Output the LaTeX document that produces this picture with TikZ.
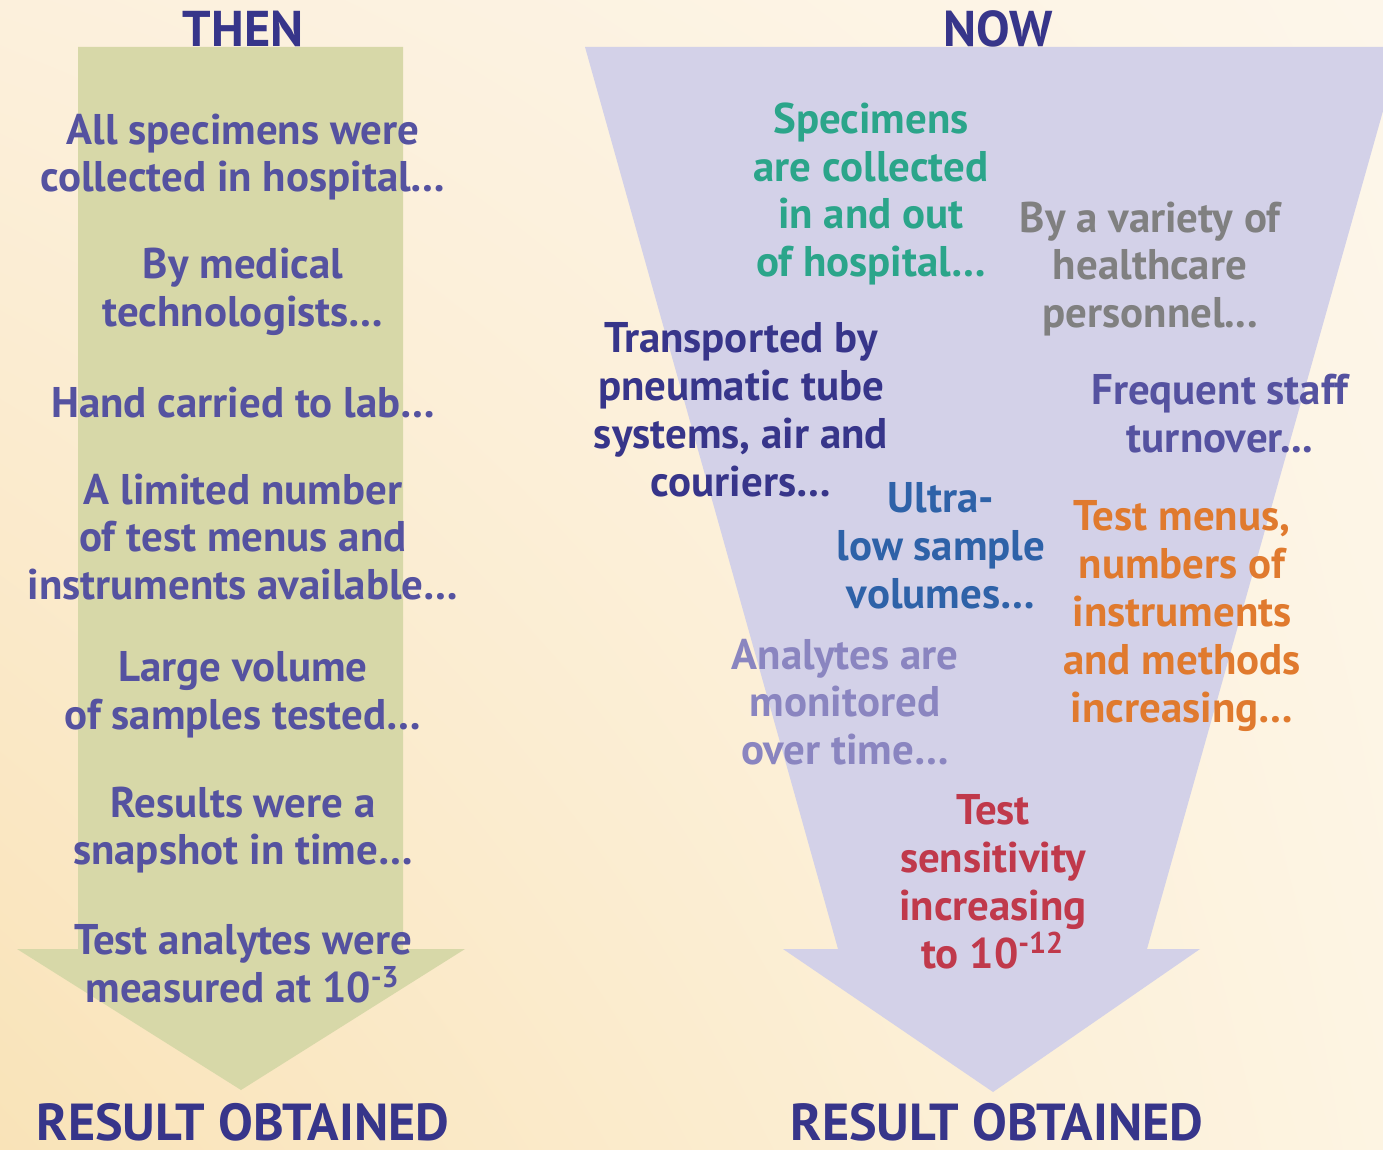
\documentclass[tikz,border=0pt]{standalone}
\usepackage{fontspec}
\setsansfont{PT Sans}
\usetikzlibrary{shadings}

\definecolor{navyhead}{HTML}{37358A}
\definecolor{thenblue}{HTML}{5552A0}
\definecolor{shaftgreen}{HTML}{D7D8A8}
\definecolor{funnelblue}{HTML}{D3D1E8}
\definecolor{tealtext}{HTML}{2BA58A}
\definecolor{graytext}{HTML}{808080}
\definecolor{bluetext}{HTML}{2E62A8}
\definecolor{orangetext}{HTML}{E07A2E}
\definecolor{lilactext}{HTML}{8A85C0}
\definecolor{redtext}{HTML}{C0394B}
\definecolor{bgTL}{HTML}{FCF0DC}
\definecolor{bgTR}{HTML}{FDF6EA}
\definecolor{bgBL}{HTML}{F9E3B8}
\definecolor{bgBR}{HTML}{FDF4E2}

\begin{document}
\begin{tikzpicture}[x=0.01cm,y=-0.01cm,
	every node/.style={inner sep=0pt, align=center,
		font=\sffamily\bfseries\fontsize{12.2}{13.6}\selectfont},
	thenitem/.style={text=thenblue},
	heading/.style={text=navyhead, font=\sffamily\bfseries\fontsize{14.3}{16}\selectfont},
	resulthead/.style={text=navyhead, font=\sffamily\bfseries\fontsize{14.8}{17}\selectfont}]
	\clip (0,0) rectangle (1383,1149);
	\shade[upper left=bgTL, upper right=bgTR, lower left=bgBL, lower right=bgBR] (0,0) rectangle (1383,1149);
	% then arrow
	\fill[shaftgreen] (78,47) -- (403,47) -- (403,949) -- (465,949) -- (241,1090) -- (17,949) -- (78,949) -- cycle;
	% now funnel
	\fill[funnelblue] (585,47) -- (1401,47) -- (1147,949) -- (1200,949) -- (993,1092) -- (783,949) -- (838,949) -- cycle;

	\node[heading, anchor=base] (then) at (243,47) {THEN};
	\node[heading, anchor=base] (now) at (998,47) {NOW};
	\node[resulthead, anchor=base] (resultl) at (243,1140) {RESULT OBTAINED};
	\node[resulthead, anchor=base] (resultr) at (997,1140) {RESULT OBTAINED};

	\node[thenitem] (collected) at (243,157) {All specimens were\\collected in hospital\ldots};
	\node[thenitem] (medtech) at (243,292) {By medical\\technologists\ldots};
	\node[thenitem] (carried) at (243,403) {Hand carried to lab\ldots};
	\node[thenitem] (menus) at (243,537) {A limited number\\of test menus and\\instruments available\ldots};
	\node[thenitem] (volume) at (243,695) {Large volume\\of samples tested\ldots};
	\node[thenitem] (snapshot) at (243,830) {Results were a\\snapshot in time\ldots};
	\node[thenitem] (measured) at (243,964) {Test analytes were\\measured at 10\textsuperscript{-3}};

	\node[text=tealtext] (inout) at (871,194) {Specimens\\are collected\\in and out\\of hospital\ldots};
	\node[text=graytext] (personnel) at (1150,269) {By a variety of\\healthcare\\personnel...};
	\node[text=navyhead] (transport) at (741,410) {Transported by\\pneumatic tube\\systems, air and\\couriers\ldots};
	\node[text=thenblue] (turnover) at (1220,414) {Frequent staff\\turnover...};
	\node[text=bluetext] (ultralow) at (941,546) {Ultra-\\low sample\\volumes\ldots};
	\node[text=orangetext] (methods) at (1182,616) {Test menus,\\numbers of\\instruments\\and methods\\increasing\ldots};
	\node[text=lilactext] (monitored) at (845,702) {Analytes are\\monitored\\over time\ldots};
	\node[text=redtext] (sensitivity) at (993,882) {Test\\sensitivity\\increasing\\to 10\textsuperscript{-12}};
\end{tikzpicture}
\end{document}
